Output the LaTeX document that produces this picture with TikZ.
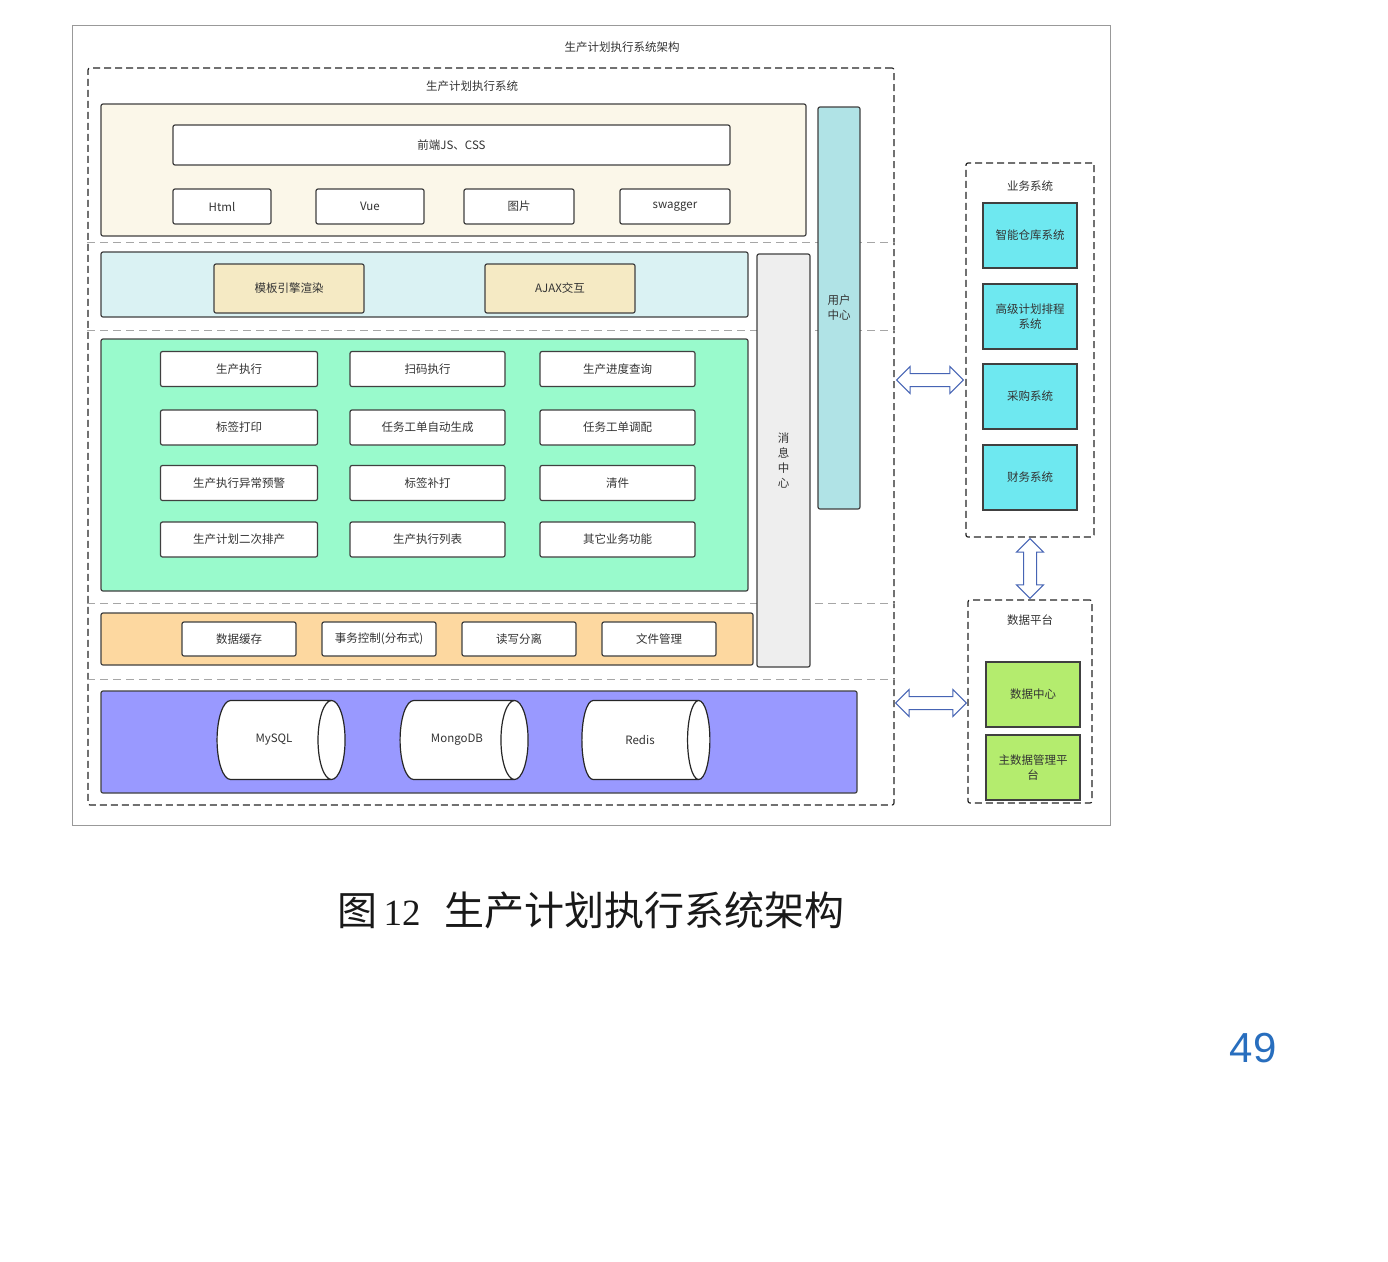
\documentclass[tikz,border=0pt]{standalone}
\usepackage{fontspec}
\setmainfont{Noto Sans CJK SC}
\newfontfamily\capnum{Liberation Serif}
\newfontfamily\pagenum{Liberation Sans}
\usepackage{tikz}
\usetikzlibrary{arrows.meta,positioning,calc,shapes.geometric,shapes.arrows}

\definecolor{creamfill}{RGB}{251,247,233}
\definecolor{userfill}{RGB}{176,227,230}
\definecolor{tplfill}{RGB}{218,242,243}
\definecolor{ajaxfill}{RGB}{245,234,196}
\definecolor{msgfill}{RGB}{238,238,238}
\definecolor{mintfill}{RGB}{153,250,204}
\definecolor{orangefill}{RGB}{253,216,160}
\definecolor{dbfill}{RGB}{153,153,255}
\definecolor{bizfill}{RGB}{110,232,240}
\definecolor{datafill}{RGB}{180,236,110}
\definecolor{arrowblue}{RGB}{70,100,180}
\definecolor{pageblue}{RGB}{40,110,190}

\begin{document}
\begin{tikzpicture}[x=1pt, y=-1pt,
    lbl/.style={font=\fontsize{11.5}{15}\selectfont, text=black!80, align=center},
    layer/.style={draw=black!75, line width=1.2pt, rounded corners=2pt, inner sep=0pt},
    box/.style={layer, lbl, fill=white},
    dashbox/.style={draw=black!85, dashed, dash pattern=on 7pt off 4pt, line width=1.2pt, rounded corners=2pt, inner sep=0pt},
    sep/.style={draw=black!35, dash pattern=on 8pt off 5pt, line width=0.8pt},
    dbase/.style={cylinder, draw=black!85, line width=1.2pt, fill=white, aspect=2.4, lbl, inner sep=0pt},
    dblarrow/.style={double arrow, draw=arrowblue, fill=white, line width=1pt, double arrow head extend=7pt,
        double arrow tip angle=90, inner xsep=0pt, inner ysep=6pt}]
    \useasboundingbox (0,0) rectangle (1388,1261);
    \fill[white] (0,0) rectangle (1388,1261);

    % Outer frame and titles
    \node[draw=black!40, line width=1pt, minimum width=1038pt, minimum height=800pt] (frame) at (591,425) {};
    \node[lbl] (title) at (622,47) {生产计划执行系统架构};
    \node[dashbox, minimum width=806pt, minimum height=737pt] (mes) at (491,436.5) {};
    \node[lbl] (mestitle) at (472,86) {生产计划执行系统};

    % Layer separators
    \draw[sep] (mes.west |- 0,242) -- (mes.east |- 0,242);
    \draw[sep] (mes.west |- 0,330) -- (mes.east |- 0,330);
    \draw[sep] (mes.west |- 0,603) -- (mes.east |- 0,603);
    \draw[sep] (mes.west |- 0,679) -- (mes.east |- 0,679);

    % Front end layer
    \node[layer, fill=creamfill, minimum width=705pt, minimum height=132pt] (front) at (453.5,170) {};
    \node[box, minimum width=557pt, minimum height=40pt] (jscss) at (451.5,145) {前端JS、CSS};
    \node[box, minimum width=98pt, minimum height=35pt] (html) at (222,206.5) {Html};
    \node[box, minimum width=108pt, minimum height=35pt] (vue) at (370,206.5) {Vue};
    \node[box, minimum width=110pt, minimum height=35pt] (pic) at (519,206.5) {图片};
    \node[box, minimum width=110pt, minimum height=35pt] (swagger) at (675,206.5) {swagger};

    % Side columns
    \node[layer, lbl, fill=userfill, minimum width=42pt, minimum height=402pt] (user) at (839,308) {用户\\中心};
    \node[layer, lbl, fill=msgfill, minimum width=53pt, minimum height=413pt] (msg) at (783.5,460.5) {消\\息\\中\\心};

    % Template layer
    \node[layer, fill=tplfill, minimum width=647pt, minimum height=65pt] (tpl) at (424.5,284.5) {};
    \node[box, fill=ajaxfill, minimum width=150pt, minimum height=49pt] (engine) at (289,288.5) {模板引擎渲染};
    \node[box, fill=ajaxfill, minimum width=150pt, minimum height=49pt] (ajax) at (560,288.5) {AJAX交互};

    % Business functions
    \node[layer, fill=mintfill, minimum width=647pt, minimum height=252pt] (func) at (424.5,465) {};
    \node[box, minimum width=157pt, minimum height=35pt] (exec) at (239,369) {生产执行};
    \node[box, minimum width=155pt, minimum height=35pt] (scan) at (427.5,369) {扫码执行};
    \node[box, minimum width=155pt, minimum height=35pt] (progress) at (617.5,369) {生产进度查询};
    \node[box, minimum width=157pt, minimum height=35pt] (label) at (239,427.5) {标签打印};
    \node[box, minimum width=155pt, minimum height=35pt] (autogen) at (427.5,427.5) {任务工单自动生成};
    \node[box, minimum width=155pt, minimum height=35pt] (dispatch) at (617.5,427.5) {任务工单调配};
    \node[box, minimum width=157pt, minimum height=35pt] (alarm) at (239,483) {生产执行异常预警};
    \node[box, minimum width=155pt, minimum height=35pt] (reprint) at (427.5,483) {标签补打};
    \node[box, minimum width=155pt, minimum height=35pt] (clear) at (617.5,483) {清件};
    \node[box, minimum width=157pt, minimum height=35pt] (resched) at (239,539.5) {生产计划二次排产};
    \node[box, minimum width=155pt, minimum height=35pt] (execlist) at (427.5,539.5) {生产执行列表};
    \node[box, minimum width=155pt, minimum height=35pt] (other) at (617.5,539.5) {其它业务功能};

    % Service layer
    \node[layer, fill=orangefill, minimum width=652pt, minimum height=52pt] (svc) at (427,639) {};
    \node[box, minimum width=114pt, minimum height=34pt] (cache) at (239,639) {数据缓存};
    \node[box, minimum width=114pt, minimum height=34pt] (trans) at (379,639) {事务控制(分布式)};
    \node[box, minimum width=114pt, minimum height=34pt] (rwsplit) at (519,639) {读写分离};
    \node[box, minimum width=114pt, minimum height=34pt] (files) at (659,639) {文件管理};

    % Storage layer
    \node[layer, fill=dbfill, minimum width=756pt, minimum height=102pt] (store) at (479,742) {};
    \node[dbase, minimum height=128pt, minimum width=79pt] (mysql) at (274,740) {MySQL};
    \node[dbase, minimum height=128pt, minimum width=79pt] (mongo) at (457,740) {MongoDB};
    \node[dbase, minimum height=128pt, minimum width=79pt] (redis) at (640,740) {Redis};

    % Business systems
    \node[dashbox, minimum width=128pt, minimum height=374pt] (biz) at (1030,350) {};
    \node[lbl] (biztitle) at (1030,186) {业务系统};
    \node[box, fill=bizfill, rounded corners=0pt, minimum width=94pt, minimum height=65pt] (wms) at (1030,235.5) {智能仓库系统};
    \node[box, fill=bizfill, rounded corners=0pt, minimum width=94pt, minimum height=65pt] (aps) at (1030,316.5) {高级计划排程\\系统};
    \node[box, fill=bizfill, rounded corners=0pt, minimum width=94pt, minimum height=65pt] (purchase) at (1030,396.5) {采购系统};
    \node[box, fill=bizfill, rounded corners=0pt, minimum width=94pt, minimum height=65pt] (finance) at (1030,477.5) {财务系统};

    % Data platform
    \node[dashbox, minimum width=124pt, minimum height=203pt] (data) at (1030,701.5) {};
    \node[lbl] (datatitle) at (1030,620) {数据平台};
    \node[box, fill=datafill, rounded corners=0pt, minimum width=94pt, minimum height=65pt] (dcenter) at (1033,694.5) {数据中心};
    \node[box, fill=datafill, rounded corners=0pt, minimum width=94pt, minimum height=65pt] (mdm) at (1033,767.5) {主数据管理平\\台};

    % Exchange arrows
    \path let \p1=(mes.east), \p2=(biz.west) in
        node[dblarrow, minimum height={\x2-\x1-4pt}] (arrbiz) at ({(\x1+\x2)/2},-380pt) {};
    \path let \p1=(mes.east), \p2=(data.west) in
        node[dblarrow, minimum height={\x2-\x1-2pt}] (arrdata) at ({(\x1+\x2)/2},-703pt) {};
    \path let \p1=(biz.south), \p2=(data.north) in
        node[dblarrow, rotate=90, minimum height={\y1-\y2-2pt}] (arrplat) at (\x1,{(\y1+\y2)/2}) {};

    % Caption and page number
    \node[font=\fontsize{40}{44}\selectfont, text=black!90] (caption) at (591,910)
        {图{\capnum\fontsize{37}{40}\selectfont\,12}\hspace{0.6em}生产计划执行系统架构};
    \node[font=\pagenum\fontsize{42}{46}\selectfont, text=pageblue] (pageno) at (1253,1048) {49};
\end{tikzpicture}
\end{document}
